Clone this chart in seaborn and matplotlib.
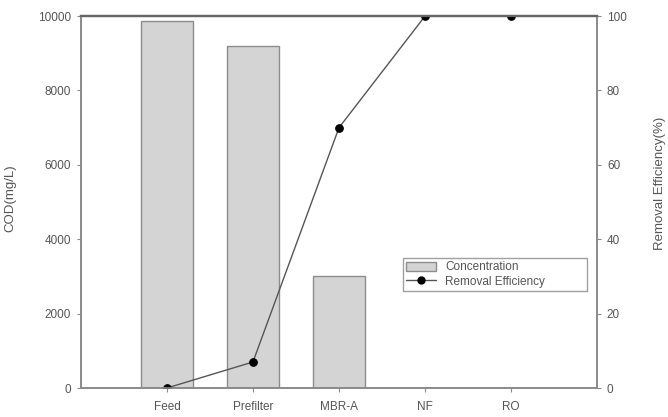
import matplotlib
matplotlib.use("Agg")
import matplotlib.pyplot as plt
import seaborn as sns
import pandas as pd
from matplotlib.patches import Patch
from matplotlib.lines import Line2D

categories = ["Feed", "Prefilter", "MBR-A", "NF", "RO"]
concentration = [9870, 9200, 3000, 0, 0]
removal_efficiency = [0, 7, 70, 100, 100]

sns.set_theme(style="white")
plt.rcParams['font.family'] = ['Liberation Sans', 'DejaVu Sans']

df = pd.DataFrame({"Stage": categories, "COD": concentration, "Removal": removal_efficiency})

fig = plt.figure(figsize=(6.68, 4.17), dpi=100)
ax = fig.add_axes([0.121, 0.0695, 0.773, 0.892])

text_col = "#555555"
spine_col = "#8a8a8a"

sns.barplot(data=df, x="Stage", y="COD", order=categories, ax=ax, color="#d4d4d4",
            saturation=1, width=0.61, edgecolor="#8c8c8c", linewidth=1.0)
ax.set_xlim(-1, 5)
ax.set_ylim(0, 10000)
ax.set_yticks([0, 2000, 4000, 6000, 8000, 10000])
ax.set_xlabel("")
ax.set_ylabel("COD(mg/L)", fontsize=9.5, color=text_col)
ax.yaxis.set_label_coords(-0.125, 0.51)

ax2 = ax.twinx()
sns.lineplot(x=list(range(len(categories))), y=removal_efficiency, ax=ax2, color="#555555",
             linewidth=1.0, marker="o", markersize=5.5, markerfacecolor="black",
             markeredgecolor="black")
ax2.set_ylim(0, 100)
ax2.set_xlim(-1, 5)
ax2.set_yticks([0, 20, 40, 60, 80, 100])
ax2.set_ylabel("Removal Efficiency(%)", fontsize=9.5, color=text_col)
ax2.yaxis.set_label_coords(1.11, 0.55)

for a in (ax, ax2):
    for s in a.spines.values():
        s.set_color(spine_col)
        s.set_linewidth(1.2)
    a.spines["top"].set_color("#666666")
    a.spines["top"].set_linewidth(1.6)
    a.tick_params(axis="both", colors=text_col, labelsize=8.5, length=3, width=0.8,
                  direction="out")
    a.tick_params(axis="both", color=spine_col)

ax.tick_params(axis="x", bottom=True, length=3, pad=6)
ax.tick_params(axis="y", left=True, pad=4)
ax2.tick_params(axis="y", right=True, pad=4)
for lbl in ax.get_xticklabels() + ax.get_yticklabels() + ax2.get_yticklabels():
    lbl.set_color(text_col)

handles = [Patch(facecolor="#d4d4d4", edgecolor="#8c8c8c", label="Concentration"),
           Line2D([0], [0], color="#555555", linewidth=1.0, marker="o", markersize=5,
                  markerfacecolor="black", markeredgecolor="black", label="Removal Efficiency")]
leg = fig.legend(handles=handles, loc="lower left",
                 bbox_to_anchor=(0.603, 0.302, 0.276, 0.079), mode="expand",
                 borderaxespad=0, fontsize=8.5, frameon=True, fancybox=False,
                 edgecolor="#888888", labelcolor=text_col, handlelength=2.5,
                 borderpad=0.3, labelspacing=0.2, handleheight=0.8)
leg.get_frame().set_linewidth(1.0)

fig.savefig("out.png", dpi=100)
